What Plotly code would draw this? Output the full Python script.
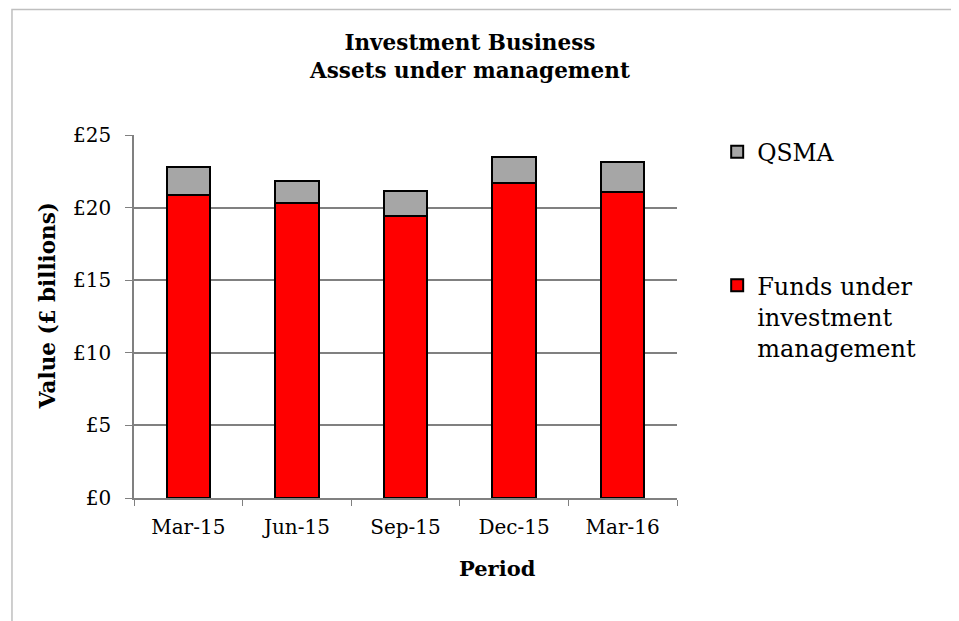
import plotly.graph_objects as go

# ─── Data ─────────────────────────────────────────────────────────────────────
periods = ['Mar-15', 'Jun-15', 'Sep-15', 'Dec-15', 'Mar-16']
funds_under_mgmt = [20.87, 20.32, 19.41, 21.70, 21.06]
qsma = [1.91, 1.52, 1.74, 1.81, 2.11]

y_ticks = [0, 5, 10, 15, 20, 25]
y_tick_labels = ['£0', '£5', '£10', '£15', '£20', '£25']

FONT = 'DejaVu Serif'
RED = '#ff0000'
GREY = '#a6a6a6'

fig = go.Figure()

fig.add_trace(go.Bar(
    x=periods,
    y=funds_under_mgmt,
    name='Funds under<br>investment<br>management',
    marker=dict(color=RED, line=dict(color='black', width=2)),
    width=0.4,
    legend='legend2',
))

fig.add_trace(go.Bar(
    x=periods,
    y=qsma,
    name='QSMA',
    marker=dict(color=GREY, line=dict(color='black', width=2)),
    width=0.4,
    legend='legend',
))

# outer chart border
fig.add_shape(
    type='rect', xref='paper', yref='paper',
    x0=-0.2247, x1=1.5138, y0=-0.4, y1=1.346,
    line=dict(color='#bfbfbf', width=1.5),
    layer='below',
)

fig.add_annotation(
    text='<b>Investment Business<br>Assets under management</b>',
    xref='paper', yref='paper', x=0.617, y=1.215,
    xanchor='center', yanchor='middle', showarrow=False,
    font=dict(family=FONT, size=21.5, color='black'),
)
fig.add_annotation(
    text='<b>Value (£ billions)</b>',
    xref='paper', yref='paper', x=-0.158, y=0.529,
    xanchor='center', yanchor='middle', textangle=-90, showarrow=False,
    font=dict(family=FONT, size=21.5, color='black'),
)
fig.add_annotation(
    text='<b>Period</b>',
    xref='paper', yref='paper', x=0.670, y=-0.193,
    xanchor='center', yanchor='middle', showarrow=False,
    font=dict(family=FONT, size=21, color='black'),
)

fig.update_layout(
    barmode='stack',
    width=951, height=613,
    margin=dict(l=126, r=282, t=127, b=123),
    paper_bgcolor='white',
    plot_bgcolor='white',
    font=dict(family=FONT, size=20, color='black'),
    showlegend=True,
    legend=dict(
        x=1.074, y=1.014, xanchor='left', yanchor='top',
        font=dict(family=FONT, size=23.5),
        bgcolor='rgba(0,0,0,0)',
    ),
    legend2=dict(
        x=1.074, y=0.647, xanchor='left', yanchor='top',
        font=dict(family=FONT, size=24),
        bgcolor='rgba(0,0,0,0)',
        valign='top',
    ),
)

fig.update_xaxes(
    showline=True, linecolor='#808080', linewidth=1.5,
    ticks='outside', tickson='boundaries', ticklen=6, tickcolor='#808080',
    ticklabelstandoff=10,
    showgrid=False,
    tickfont=dict(family=FONT, size=20),
)
fig.update_yaxes(
    range=[0, 25],
    tickvals=y_ticks, ticktext=y_tick_labels,
    showline=True, linecolor='#808080', linewidth=1.5,
    ticks='outside', ticklen=7, tickcolor='#808080',
    ticklabelstandoff=10,
    showgrid=True, gridcolor='#808080', gridwidth=1.5,
    zeroline=False,
    tickfont=dict(family=FONT, size=20),
)

fig.write_html('out.html')
